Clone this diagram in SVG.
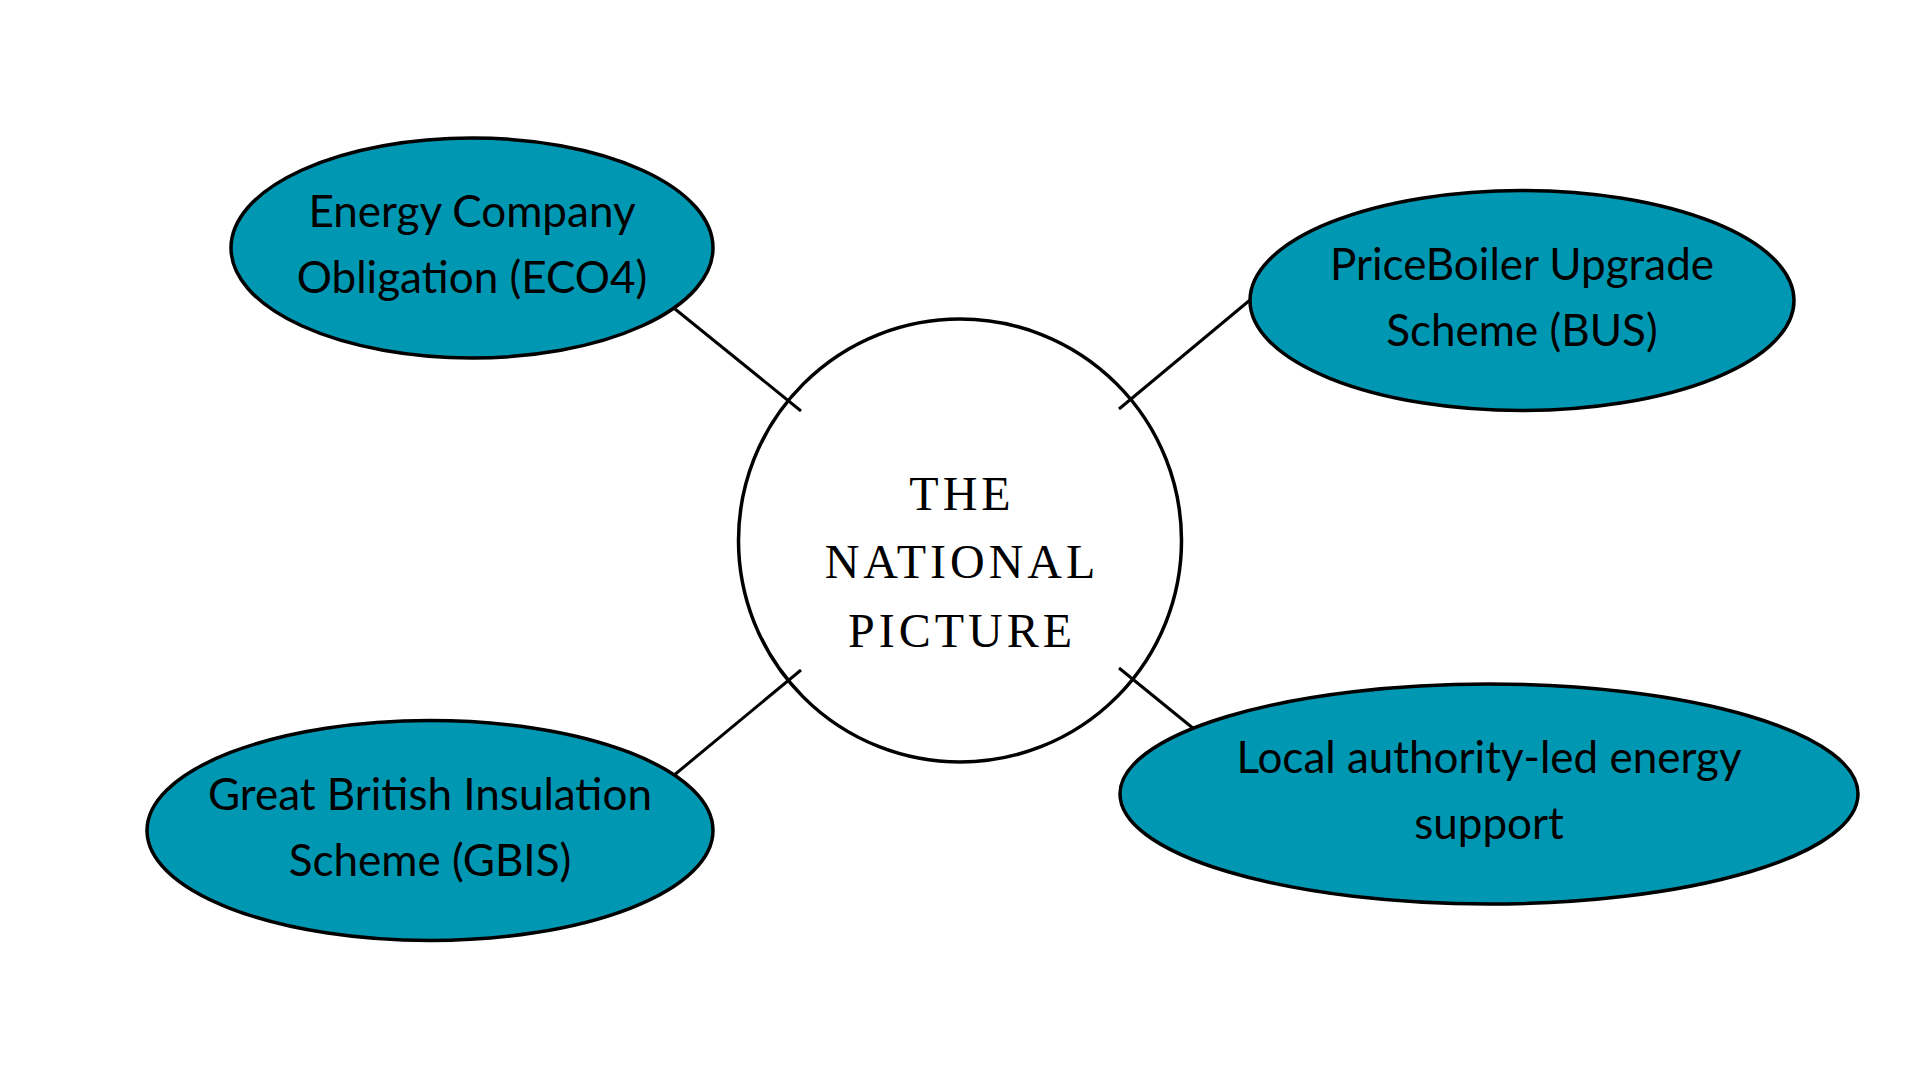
<svg xmlns="http://www.w3.org/2000/svg" width="1920" height="1080" viewBox="0 0 1920 1080">
<style>
.bubble{fill:#0097b2;stroke:#000;stroke-width:3.5}
.hub{fill:#fff;stroke:#000;stroke-width:3.5}
.lbl{font-family:Lato,"Liberation Sans",sans-serif;font-size:44px;fill:#000;text-anchor:middle}
.title{font-family:"Liberation Serif","DejaVu Serif",serif;font-size:48px;letter-spacing:4px;fill:#000;text-anchor:middle}
.conn line{stroke:#000;stroke-width:3}
</style>
<rect width="1920" height="1080" fill="#fff"/>
<g id="hub">
<circle class="hub" cx="960" cy="540.5" r="221.5"/>
<text class="title" x="962" y="510">THE</text>
<text class="title" x="962" y="578">NATIONAL</text>
<text class="title" x="962" y="647">PICTURE</text>
</g>
<g id="connectors" class="conn">
<line x1="675" y1="309" x2="801" y2="411"/>
<line x1="1250" y1="300" x2="1119" y2="409"/>
<line x1="673" y1="776" x2="801" y2="670"/>
<line x1="1194" y1="729" x2="1119" y2="668"/>
</g>
<g id="eco4">
<ellipse class="bubble" cx="472" cy="248" rx="241" ry="110"/>
<text class="lbl" x="472" y="227">Energy Company</text>
<text class="lbl" x="472" y="293">Obligation (ECO4)</text>
</g>
<g id="bus">
<ellipse class="bubble" cx="1522" cy="300.5" rx="272" ry="110"/>
<text class="lbl" x="1522" y="280">PriceBoiler Upgrade</text>
<text class="lbl" x="1522" y="346">Scheme (BUS)</text>
</g>
<g id="gbis">
<ellipse class="bubble" cx="430" cy="830.5" rx="283" ry="110"/>
<text class="lbl" x="430" y="810">Great British Insulation</text>
<text class="lbl" x="430" y="876">Scheme (GBIS)</text>
</g>
<g id="local">
<ellipse class="bubble" cx="1489" cy="794" rx="369" ry="110"/>
<text class="lbl" x="1489" y="773">Local authority-led energy</text>
<text class="lbl" x="1489" y="839">support</text>
</g>
</svg>
